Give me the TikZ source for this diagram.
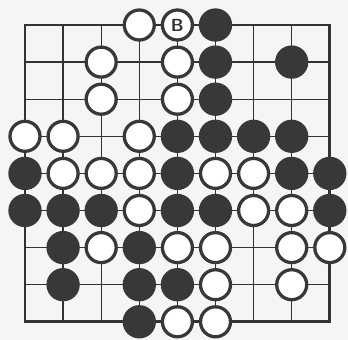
\documentclass[tikz,border=0pt]{standalone}
\usetikzlibrary{positioning}
\tikzset{
    gridline/.style={line width=1.1pt, draw=black!80},
    edge/.style={line width=2.3pt, draw=black!80},
    stone/.style={circle, inner sep=0pt},
    bstone/.style={stone, fill=black!78, minimum size=1.0cm},
    wstone/.style={stone, draw=black!78, line width=2.8pt, fill=white, minimum size=0.9cm},
    stonelabel/.style={font=\fontsize{15}{15}\selectfont\sffamily\bfseries, text=black!80}
}
\begin{document}
\begin{tikzpicture}[x=1.143cm, y=-1.113cm]
    \fill[black!4] (-0.656,-0.674) rectangle (8.478,8.49);
    \useasboundingbox (-0.656,-0.674) rectangle (8.478,8.49);

    % board
    \foreach \i in {1,...,7} {
        \draw[gridline] (0,\i) -- (8,\i);
        \draw[gridline] (\i,0) -- (\i,8);
    }
    \draw[edge] (0,0) rectangle (8,8);

    % row 1
    \node (d1) [wstone] at (3,0) {};
    \node (e1) [wstone] at (4,0) {};
    \node (f1) [bstone] at (5,0) {};
    \node (lbl) [stonelabel] at (e1) {B};
    % row 2
    \node (c2) [wstone] at (2,1) {};
    \node (e2) [wstone] at (4,1) {};
    \node (f2) [bstone] at (5,1) {};
    \node (h2) [bstone] at (7,1) {};
    % row 3
    \node (c3) [wstone] at (2,2) {};
    \node (e3) [wstone] at (4,2) {};
    \node (f3) [bstone] at (5,2) {};
    % row 4
    \node (a4) [wstone] at (0,3) {};
    \node (b4) [wstone] at (1,3) {};
    \node (d4) [wstone] at (3,3) {};
    \node (e4) [bstone] at (4,3) {};
    \node (f4) [bstone] at (5,3) {};
    \node (g4) [bstone] at (6,3) {};
    \node (h4) [bstone] at (7,3) {};
    % row 5
    \node (a5) [bstone] at (0,4) {};
    \node (b5) [wstone] at (1,4) {};
    \node (c5) [wstone] at (2,4) {};
    \node (d5) [wstone] at (3,4) {};
    \node (e5) [bstone] at (4,4) {};
    \node (f5) [wstone] at (5,4) {};
    \node (g5) [wstone] at (6,4) {};
    \node (h5) [bstone] at (7,4) {};
    \node (i5) [bstone] at (8,4) {};
    % row 6
    \node (a6) [bstone] at (0,5) {};
    \node (b6) [bstone] at (1,5) {};
    \node (c6) [bstone] at (2,5) {};
    \node (d6) [wstone] at (3,5) {};
    \node (e6) [bstone] at (4,5) {};
    \node (f6) [bstone] at (5,5) {};
    \node (g6) [wstone] at (6,5) {};
    \node (h6) [wstone] at (7,5) {};
    \node (i6) [bstone] at (8,5) {};
    % row 7
    \node (b7) [bstone] at (1,6) {};
    \node (c7) [wstone] at (2,6) {};
    \node (d7) [bstone] at (3,6) {};
    \node (e7) [wstone] at (4,6) {};
    \node (f7) [wstone] at (5,6) {};
    \node (h7) [wstone] at (7,6) {};
    \node (i7) [wstone] at (8,6) {};
    % row 8
    \node (b8) [bstone] at (1,7) {};
    \node (d8) [bstone] at (3,7) {};
    \node (e8) [bstone] at (4,7) {};
    \node (f8) [wstone] at (5,7) {};
    \node (h8) [wstone] at (7,7) {};
    % row 9
    \node (d9) [bstone] at (3,8) {};
    \node (e9) [wstone] at (4,8) {};
    \node (f9) [wstone] at (5,8) {};
\end{tikzpicture}
\end{document}
